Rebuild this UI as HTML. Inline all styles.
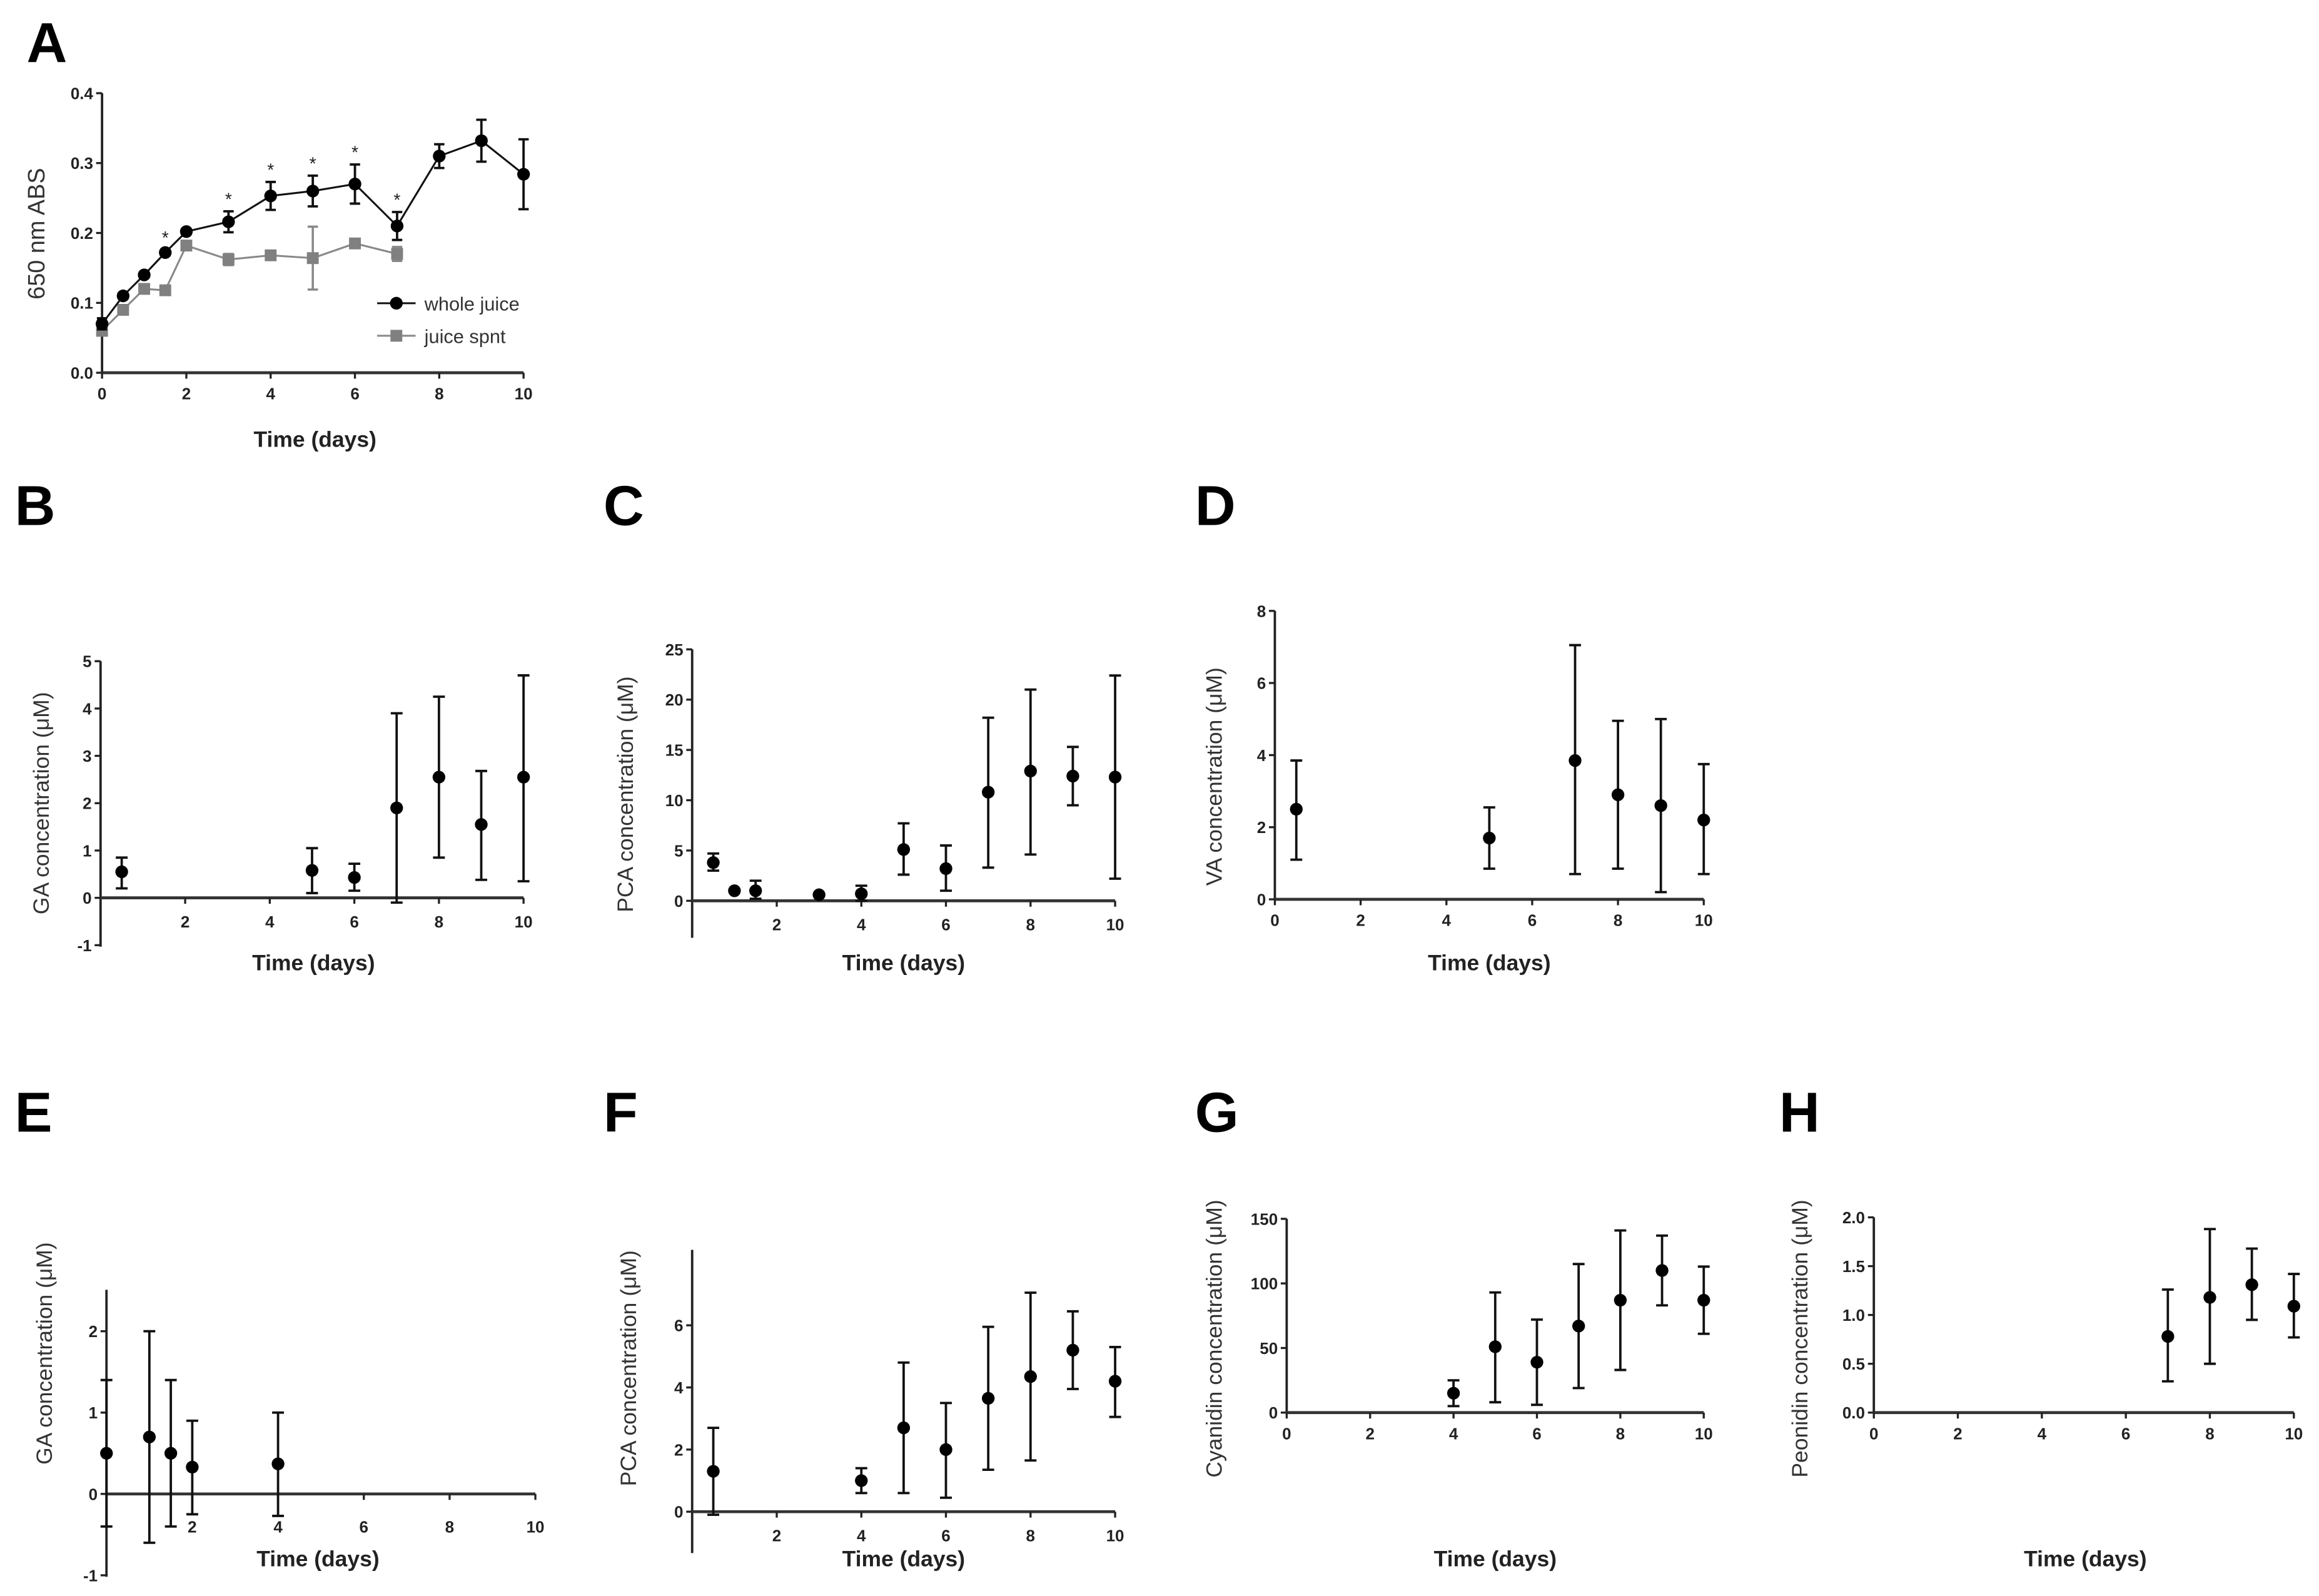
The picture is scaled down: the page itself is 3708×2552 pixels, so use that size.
<!DOCTYPE html>
<html><head><meta charset="utf-8"><style>
html,body{margin:0;padding:0;background:#fff;}
svg{display:block;}
text{font-family:"Liberation Sans",sans-serif;}
</style></head><body>
<svg id="fig" width="3708" height="2552" viewBox="0 0 1568 1079" preserveAspectRatio="none" xmlns="http://www.w3.org/2000/svg"></svg>
<script>
// Panel A data
const aDays=[0,0.5,1,1.5,2,3,4,5,6,7,8,9,10];
const aWhole=[0.07,0.11,0.14,0.172,0.202,0.216,0.253,0.26,0.27,0.21,0.31,0.332,0.284];
const aWholeErr=[0.008,0.004,0.004,0.004,0.004,0.015,0.02,0.022,0.028,0.02,0.017,0.03,0.05];
const aSpntDays=[0,0.5,1,1.5,2,3,4,5,6,7];
const aSpnt=[0.06,0.09,0.12,0.118,0.182,0.162,0.168,0.164,0.185,0.17];
const aSpntErr=[0.004,0.004,0.004,0.004,0.006,0.008,0.004,0.045,0.004,0.01];
const aStarDays=[1.5,3,4,5,6,7];
// Panel B
const bDays=[0.5,5,6,7,8,9,10];
const bMean=[0.55,0.58,0.43,1.9,2.55,1.55,2.55];
const bLow=[0.2,0.1,0.15,-0.1,0.85,0.38,0.35];
const bHigh=[0.85,1.05,0.72,3.9,4.25,2.68,4.7];
// Panel C
const cDays=[0.5,1,1.5,3,4,5,6,7,8,9,10];
const cMean=[3.8,1.0,1.0,0.6,0.7,5.1,3.2,10.8,12.9,12.4,12.3];
const cLow=[3.0,0.9,0.2,0.5,0.0,2.6,1.0,3.3,4.6,9.5,2.2];
const cHigh=[4.7,1.1,2.0,0.7,1.5,7.7,5.5,18.2,21.0,15.3,22.4];
// Panel D
const dDays=[0.5,5,7,8,9,10];
const dMean=[2.5,1.7,3.85,2.9,2.6,2.2];
const dLow=[1.1,0.85,0.7,0.85,0.2,0.7];
const dHigh=[3.85,2.55,7.05,4.95,5.0,3.75];
// Panel E
const eDays=[0,1,1.5,2,4];
const eMean=[0.5,0.7,0.5,0.33,0.37];
const eLow=[-0.4,-0.6,-0.4,-0.25,-0.27];
const eHigh=[1.4,2.0,1.4,0.9,1.0];
// Panel F
const fDays=[0.5,4,5,6,7,8,9,10];
const fMean=[1.3,1.0,2.7,2.0,3.65,4.35,5.2,4.2];
const fLow=[-0.1,0.6,0.6,0.45,1.35,1.65,3.95,3.05];
const fHigh=[2.7,1.4,4.8,3.5,5.95,7.05,6.45,5.3];
// Panel G
const gDays=[4,5,6,7,8,9,10];
const gMean=[15,51,39,67,87,110,87];
const gLow=[5,8,6,19,33,83,61];
const gHigh=[25,93,72,115,141,137,113];
// Panel H
const hDays=[7,8,9,10];
const hMean=[0.78,1.18,1.31,1.09];
const hLow=[0.32,0.5,0.95,0.77];
const hHigh=[1.26,1.88,1.68,1.42];
// Tick labels
const aYTicks=[0,0.1,0.2,0.3,0.4];
const xTicksFull=[0,2,4,6,8,10];
const xTicksNoZero=[2,4,6,8,10];
const bYTicks=[-1,0,1,2,3,4,5];
const cYTicks=[0,5,10,15,20,25];
const dYTicks=[0,2,4,6,8];
const eYTicks=[-1,0,1,2];
const fYTicks=[0,2,4,6];
const gYTicks=[0,50,100,150];
const hYTicks=[0,0.5,1.0,1.5,2.0];

const NS="http://www.w3.org/2000/svg";
const svg=document.getElementById('fig');
function el(tag,attrs,parent,txt){const e=document.createElementNS(NS,tag);for(const k in attrs)e.setAttribute(k,attrs[k]);if(txt!==undefined)e.textContent=txt;(parent||svg).appendChild(e);return e;}

function panel(p){
  const g=el('g',{});
  
  
  const sx=v=>p.x0+(v-0)*(p.x10-p.x0)/10;
  const sy=v=>p.yb+(v-p.vb)*(p.yt-p.yb)/(p.vt-p.vb);
  p.sx=sx;p.sy=sy;
  const L=el('text',{x:p.lx,y:p.ly,'font-size':38,'font-weight':'bold'},g,p.id);
  
  
  const ya=el('line',{x1:p.x0,x2:p.x0,y1:p.yAxTop,y2:p.yAxBot,stroke:'#222','stroke-width':1.6},g);
  
  
  p.yTicks.forEach(v=>{
    el('line',{x1:p.x0-4,x2:p.x0,y1:sy(v),y2:sy(v),stroke:'#222','stroke-width':1.4},g);
    const t=el('text',{x:p.x0-6,y:sy(v)+4,'font-size':11,'font-weight':'bold','text-anchor':'end',fill:'#222'},g,p.fmt(v));
    
    
  });
  const xy=sy(p.xAxisVal);
  const xa=el('line',{x1:p.x0,x2:sx(10),y1:xy,y2:xy,stroke:'#333','stroke-width':2},g);
  
  
  p.xTicks.forEach(v=>{
    el('line',{x1:sx(v),x2:sx(v),y1:xy,y2:xy+4,stroke:'#222','stroke-width':1.4},g);
    const t=el('text',{x:sx(v),y:xy+p.xLabOff,'font-size':11,'font-weight':'bold','text-anchor':'middle',fill:'#222'},g,String(v));
    
    
  });
  const xt=el('text',{x:p.xtx,y:p.xty,'font-size':15,'font-weight':'bold','text-anchor':'middle',fill:'#222'},g,'Time (days)');
  
  
  const yt=el('text',{x:0,y:0,'font-size':p.ytSize||15,'text-anchor':'middle',fill:'#333',transform:`translate(${p.ytx},${p.yty}) rotate(-90)`},g,p.ytitle);
  
  
  if(p.days){
    p.days.forEach((d,i)=>{
      const x=sx(d);
      const eb=el('path',{d:`M${x},${sy(p.low[i])}V${sy(p.high[i])}M${x-4},${sy(p.low[i])}H${x+4}M${x-4},${sy(p.high[i])}H${x+4}`,stroke:'#111','stroke-width':1.6,fill:'none'},g);
      
      
      const c=el('circle',{cx:x,cy:sy(p.mean[i]),r:4.3,fill:'#000'},g);
      
      
    });
  }
  return g;
}

const pa={id:'A',x0:69,x10:354,yb:252,yt:63,vb:0,vt:0.4,lx:18,ly:42,yAxTop:63,yAxBot:252,xAxisVal:0,
  yTicks:aYTicks,xTicks:xTicksFull,fmt:v=>v.toFixed(1),xLabOff:18,xtx:213,xty:302,ytx:30,yty:158,ytitle:'650 nm ABS',ytSize:16};
const ga=panel(pa);
const sPts=aSpntDays.map((d,i)=>pa.sx(d)+','+pa.sy(aSpnt[i])).join(' ');
const sl=el('polyline',{points:sPts,fill:'none',stroke:'#888','stroke-width':1.3},ga);


aSpntDays.forEach((d,i)=>{
  const x=pa.sx(d),y=pa.sy(aSpnt[i]),lo=pa.sy(aSpnt[i]-aSpntErr[i]),hi=pa.sy(aSpnt[i]+aSpntErr[i]);
  el('path',{d:`M${x},${lo}V${hi}M${x-3.5},${lo}H${x+3.5}M${x-3.5},${hi}H${x+3.5}`,stroke:'#888','stroke-width':1.5,fill:'none'},ga);
  const r=el('rect',{x:x-4,y:y-4,width:8,height:8,fill:'#808080'},ga);
  
  
});
const wPts=aDays.map((d,i)=>pa.sx(d)+','+pa.sy(aWhole[i])).join(' ');
const wl=el('polyline',{points:wPts,fill:'none',stroke:'#111','stroke-width':1.3},ga);


aDays.forEach((d,i)=>{
  const x=pa.sx(d),y=pa.sy(aWhole[i]),lo=pa.sy(aWhole[i]-aWholeErr[i]),hi=pa.sy(aWhole[i]+aWholeErr[i]);
  el('path',{d:`M${x},${lo}V${hi}M${x-3.5},${lo}H${x+3.5}M${x-3.5},${hi}H${x+3.5}`,stroke:'#111','stroke-width':1.6,fill:'none'},ga);
  const c=el('circle',{cx:x,cy:y,r:4.3,fill:'#000'},ga);
  
  
});
aStarDays.forEach(d=>{
  const i=aDays.indexOf(d);
  const s=el('text',{x:pa.sx(d),y:pa.sy(aWhole[i]+aWholeErr[i])-4,'font-size':12,'text-anchor':'middle',fill:'#222'},ga,'*');
  
  
});
const lg=el('g',{},ga);


el('line',{x1:255,x2:281,y1:205,y2:205,stroke:'#111','stroke-width':1.3},lg);
el('circle',{cx:268,cy:205,r:4.3,fill:'#000'},lg);
const l1=el('text',{x:287,y:210,'font-size':13,fill:'#333'},lg,'whole juice');


el('line',{x1:255,x2:281,y1:227,y2:227,stroke:'#888','stroke-width':1.3},lg);
el('rect',{x:264,y:223,width:8,height:8,fill:'#808080'},lg);
const l2=el('text',{x:287,y:232,'font-size':13,fill:'#333'},lg,'juice spnt');



const int=v=>String(v);
const one=v=>v.toFixed(1);
panel({id:'B',x0:68,x10:354,yb:607,yt:447,vb:0,vt:5,lx:10,ly:355,yAxTop:447,yAxBot:640,xAxisVal:0,
  yTicks:bYTicks,xTicks:xTicksNoZero,fmt:int,xLabOff:20,xtx:212,xty:656,ytx:33,yty:543,ytitle:'GA concentration (\u03bcM)',
  days:bDays,mean:bMean,low:bLow,high:bHigh});
panel({id:'C',x0:468,x10:754,yb:609,yt:439,vb:0,vt:25,lx:408,ly:355,yAxTop:439,yAxBot:634,xAxisVal:0,
  yTicks:cYTicks,xTicks:xTicksNoZero,fmt:int,xLabOff:20,xtx:611,xty:656,ytx:428,yty:537,ytitle:'PCA concentration (\u03bcM)',
  days:cDays,mean:cMean,low:cLow,high:cHigh});
panel({id:'D',x0:862,x10:1152,yb:608,yt:413,vb:0,vt:8,lx:808,ly:355,yAxTop:413,yAxBot:608,xAxisVal:0,
  yTicks:dYTicks,xTicks:xTicksFull,fmt:int,xLabOff:18,xtx:1007,xty:656,ytx:826,yty:525,ytitle:'VA concentration (\u03bcM)',
  days:dDays,mean:dMean,low:dLow,high:dHigh});
panel({id:'E',x0:72,x10:362,yb:1010,yt:900,vb:0,vt:2,lx:10,ly:765,yAxTop:872,yAxBot:1066,xAxisVal:0,
  yTicks:eYTicks,xTicks:xTicksNoZero,fmt:int,xLabOff:26,xtx:215,xty:1059,ytx:35,yty:915,ytitle:'GA concentration (\u03bcM)',
  days:eDays,mean:eMean,low:eLow,high:eHigh});
panel({id:'F',x0:468,x10:754,yb:1022,yt:896,vb:0,vt:6,lx:408,ly:765,yAxTop:845,yAxBot:1050,xAxisVal:0,
  yTicks:fYTicks,xTicks:xTicksNoZero,fmt:int,xLabOff:20,xtx:611,xty:1059,ytx:430,yty:925,ytitle:'PCA concentration (\u03bcM)',
  days:fDays,mean:fMean,low:fLow,high:fHigh});
panel({id:'G',x0:870,x10:1152,yb:955,yt:824,vb:0,vt:150,lx:808,ly:765,yAxTop:824,yAxBot:955,xAxisVal:0,
  yTicks:gYTicks,xTicks:xTicksFull,fmt:int,xLabOff:18,xtx:1011,xty:1059,ytx:826,yty:905,ytitle:'Cyanidin concentration (\u03bcM)',
  days:gDays,mean:gMean,low:gLow,high:gHigh});
panel({id:'H',x0:1267,x10:1551,yb:955,yt:823,vb:0,vt:2,lx:1203,ly:765,yAxTop:823,yAxBot:955,xAxisVal:0,
  yTicks:hYTicks,xTicks:xTicksFull,fmt:one,xLabOff:18,xtx:1410,xty:1059,ytx:1222,yty:905,ytitle:'Peonidin concentration (\u03bcM)',
  days:hDays,mean:hMean,low:hLow,high:hHigh});
</script>
</body></html>
